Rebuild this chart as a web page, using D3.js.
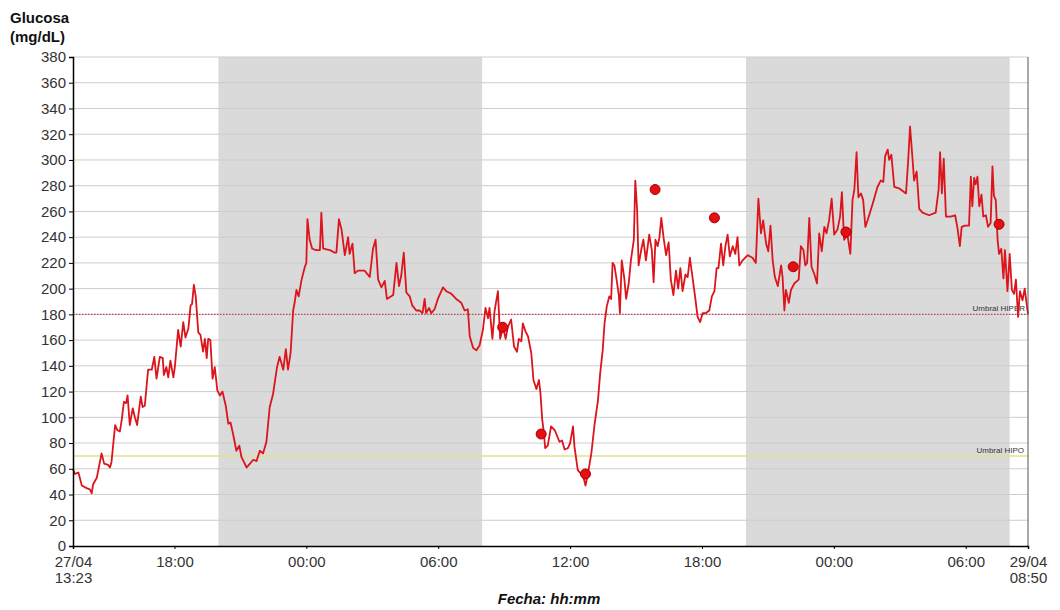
<!DOCTYPE html>
<html>
<head>
<meta charset="utf-8">
<script src="https://cdn.jsdelivr.net/npm/d3@7"></script>
<style>
  body { margin: 0; background: #fff; }
  svg text { font-family: "Liberation Sans", Arial, sans-serif; }
</style>
</head>
<body>
<script>
// sensor trace: minutes after 27/04 13:23 and glucose (mg/dL)
var minutesFromStart = [0, 5, 15, 24, 37, 46, 51, 55, 65, 78, 85, 96, 101, 105, 115, 121, 128, 133, 139, 145,
  149, 155, 163, 169, 175, 185, 190, 196, 205, 215, 222, 228, 237, 245, 248, 255, 260, 266, 274, 278,
  287, 294, 301, 307, 315, 321, 325, 330, 335, 342, 348, 355, 360, 365, 369, 375, 381, 387, 394, 401,
  408, 417, 424, 430, 437, 446, 454, 460, 474, 483, 492, 501, 510, 519, 528, 537, 546, 557, 564, 574,
  581, 587, 594, 601, 605, 610, 616, 624, 633, 637, 640, 646, 653, 664, 674, 678, 683, 701, 714, 719,
  726, 733, 742, 751, 755, 763, 769, 778, 796, 810, 819, 826, 833, 842, 851, 857, 874, 883, 890, 896,
  903, 910, 919, 926, 937, 946, 954, 960, 964, 972, 978, 987, 996, 1010, 1019, 1033, 1046, 1060, 1069, 1078,
  1083, 1092, 1101, 1110, 1119, 1126, 1133, 1137, 1145, 1151, 1160, 1166, 1174, 1181, 1187, 1196, 1204, 1212, 1217, 1224,
  1228, 1235, 1242, 1251, 1257, 1265, 1272, 1276, 1281, 1285, 1289, 1296, 1305, 1315, 1328, 1335, 1342, 1351, 1357, 1365,
  1369, 1378, 1387, 1394, 1399, 1405, 1415, 1424, 1433, 1439, 1446, 1451, 1457, 1464, 1469, 1473, 1478, 1484, 1490, 1493,
  1498, 1505, 1510, 1517, 1523, 1531, 1535, 1540, 1544, 1551, 1557, 1564, 1573, 1580, 1585, 1590, 1596, 1601, 1606, 1612,
  1619, 1626, 1632, 1639, 1646, 1652, 1658, 1664, 1672, 1678, 1684, 1692, 1699, 1705, 1712, 1719, 1728, 1737, 1744, 1751,
  1757, 1762, 1769, 1775, 1781, 1787, 1793, 1801, 1808, 1814, 1819, 1828, 1842, 1855, 1864, 1871, 1878, 1884, 1892, 1898,
  1904, 1910, 1916, 1924, 1933, 1937, 1942, 1946, 1954, 1960, 1969, 1981, 1987, 1994, 1999, 2004, 2010, 2016, 2024, 2031,
  2037, 2044, 2051, 2057, 2064, 2071, 2078, 2087, 2094, 2099, 2105, 2114, 2122, 2128, 2133, 2139, 2144, 2151, 2157, 2163,
  2169, 2183, 2196, 2205, 2212, 2217, 2224, 2228, 2234, 2242, 2255, 2274, 2280, 2285, 2292, 2296, 2303, 2310, 2319, 2337,
  2355, 2363, 2367, 2372, 2377, 2383, 2396, 2408, 2414, 2421, 2426, 2435, 2446, 2451, 2455, 2460, 2464, 2469, 2474, 2480,
  2485, 2492, 2498, 2505, 2510, 2514, 2519, 2524, 2528, 2534, 2540, 2544, 2551, 2557, 2563, 2569, 2574, 2580, 2585, 2592,
  2598, 2607];
var glucose = [60, 56, 57, 47, 45, 44, 41, 48, 53, 72, 64, 63, 61, 65, 94, 90, 89, 98, 112, 111,
  117, 94, 107, 100, 94, 116, 108, 109, 137, 137, 147, 130, 147, 146, 133, 139, 131, 144, 131, 139,
  168, 155, 174, 162, 169, 187, 188, 203, 194, 166, 164, 151, 161, 146, 161, 160, 130, 139, 121, 117,
  120, 109, 95, 96, 87, 74, 78, 69, 61, 64, 67, 66, 74, 72, 81, 108, 118, 139, 147, 137,
  153, 137, 150, 183, 189, 199, 194, 207, 217, 220, 254, 238, 231, 230, 230, 259, 231, 230, 228, 228,
  254, 246, 226, 240, 227, 235, 212, 214, 214, 209, 231, 238, 207, 201, 206, 192, 195, 220, 202, 210,
  228, 197, 194, 187, 183, 183, 181, 192, 181, 185, 181, 184, 192, 201, 198, 196, 192, 189, 183, 184,
  163, 154, 152, 156, 168, 185, 177, 185, 161, 183, 198, 161, 170, 161, 170, 176, 155, 151, 161, 159,
  173, 167, 163, 150, 129, 122, 129, 119, 98, 89, 76, 78, 93, 90, 81, 82, 75, 76, 80, 93,
  77, 59, 56, 53, 47, 55, 72, 95, 113, 134, 152, 173, 186, 194, 192, 220, 218, 207, 195, 181,
  222, 208, 192, 204, 222, 238, 284, 261, 218, 230, 238, 222, 242, 230, 205, 238, 233, 240, 255, 240,
  226, 236, 207, 195, 214, 200, 216, 198, 211, 209, 224, 207, 192, 178, 174, 181, 181, 183, 194, 198,
  216, 216, 235, 218, 233, 242, 225, 233, 227, 240, 218, 222, 226, 224, 220, 270, 243, 253, 235, 229,
  249, 222, 209, 202, 218, 209, 183, 199, 189, 199, 204, 207, 233, 230, 218, 220, 255, 217, 211, 204,
  243, 229, 248, 243, 253, 270, 242, 246, 256, 275, 238, 242, 227, 269, 277, 306, 271, 274, 269, 248,
  253, 266, 279, 284, 283, 303, 308, 300, 304, 279, 278, 274, 300, 326, 300, 284, 291, 262, 259, 257,
  259, 277, 306, 274, 301, 256, 256, 257, 248, 233, 248, 249, 249, 287, 264, 286, 281, 287, 264, 273,
  256, 257, 248, 251, 295, 272, 269, 238, 227, 231, 208, 230, 198, 227, 199, 196, 207, 178, 198, 191,
  200, 180];

// capillary (meter) readings
var meterMinutes = [1173, 1278, 1399, 1589, 1751, 1966, 2110, 2528];
var meterValues = [170, 87, 56, 277, 255, 217, 244, 250];

var startLabel = "27/04/2012 13:23";
var endLabel = "29/04/2012 08:50";
var nightStarts = ["27/04/2012 20:00", "28/04/2012 20:00"];
var nightEnds = ["28/04/2012 08:00", "29/04/2012 08:00"];
var hourTicks = ["27/04/2012 18:00", "28/04/2012 00:00", "28/04/2012 06:00", "28/04/2012 12:00",
  "28/04/2012 18:00", "29/04/2012 00:00", "29/04/2012 06:00"];
var yTicks = d3.range(0, 381, 20);
var thresholdHiper = 180;
var thresholdHipo = 70;

(function () {
  var parse = d3.timeParse("%d/%m/%Y %H:%M");
  var t0 = parse(startLabel), t1 = parse(endLabel);
  var atMinute = function (m) { return new Date(t0.getTime() + m * 60000); };

  var w = 1060, h = 610;
  var pLeft = 73, pRight = 1028, pTop = 57, pBottom = 546;

  var svg = d3.select("body").append("svg").attr("width", w).attr("height", h);

  var x = d3.scaleTime().domain([t0, t1]).range([pLeft, pRight]);
  var y = d3.scaleLinear().domain([0, 380]).range([pBottom, pTop]);

  // night shading
  svg.append("g").selectAll("rect")
    .data(nightStarts)
    .enter().append("rect")
    .attr("x", function (d) { return x(parse(d)); })
    .attr("y", pTop)
    .attr("width", function (d, i) { return x(parse(nightEnds[i])) - x(parse(d)); })
    .attr("height", pBottom - pTop)
    .attr("fill", "#dadada");

  // horizontal grid
  svg.append("g").selectAll("line")
    .data(yTicks.filter(function (d) { return d > 0; }))
    .enter().append("line")
    .attr("x1", pLeft).attr("x2", pRight)
    .attr("y1", function (d) { return y(d); })
    .attr("y2", function (d) { return y(d); })
    .attr("stroke", "#cdcdcd")
    .attr("stroke-width", 1);

  // thresholds
  svg.append("line")
    .attr("x1", pLeft).attr("x2", pRight)
    .attr("y1", y(thresholdHiper)).attr("y2", y(thresholdHiper))
    .attr("stroke", "#b8485e").attr("stroke-width", 1.3)
    .attr("stroke-dasharray", "1.5,1.5");
  svg.append("line")
    .attr("x1", pLeft).attr("x2", pRight)
    .attr("y1", y(thresholdHipo)).attr("y2", y(thresholdHipo))
    .attr("stroke", "#e2e08c").attr("stroke-width", 1.5);

  svg.append("text").attr("x", pRight - 3).attr("y", y(thresholdHiper) - 3)
    .attr("text-anchor", "end").attr("font-size", 8).attr("fill", "#333")
    .text("Umbral HIPER");
  svg.append("text").attr("x", pRight - 4).attr("y", y(thresholdHipo) - 3)
    .attr("text-anchor", "end").attr("font-size", 8).attr("fill", "#333")
    .text("Umbral HIPO");

  // sensor line
  var series = minutesFromStart.map(function (m, i) { return { t: atMinute(m), v: glucose[i] }; });
  var line = d3.line()
    .x(function (d) { return x(d.t); })
    .y(function (d) { return y(d.v); });
  svg.append("path")
    .datum(series)
    .attr("d", line)
    .attr("fill", "none")
    .attr("stroke", "#dc141c")
    .attr("stroke-width", 1.8)
    .attr("stroke-linejoin", "round");

  // meter dots
  svg.append("g").selectAll("circle")
    .data(meterMinutes)
    .enter().append("circle")
    .attr("cx", function (d) { return x(atMinute(d)); })
    .attr("cy", function (d, i) { return y(meterValues[i]); })
    .attr("r", 5)
    .attr("fill", "#e30f12")
    .attr("stroke", "#a80000")
    .attr("stroke-width", 1);

  // right border
  svg.append("line")
    .attr("x1", pRight).attr("x2", pRight).attr("y1", pTop).attr("y2", pBottom)
    .attr("stroke", "#555").attr("stroke-width", 1);

  // y axis
  var yAxis = svg.append("g")
    .attr("transform", "translate(" + pLeft + ",0)")
    .call(d3.axisLeft(y).tickValues(yTicks).tickSize(4).tickPadding(3));
  yAxis.select(".domain").attr("stroke", "#000").attr("stroke-width", 1.5);
  yAxis.selectAll("text").attr("font-size", 15).attr("fill", "#333")
    .style("font-family", "'Liberation Sans', Arial, sans-serif");

  // x axis
  var xAxis = svg.append("g")
    .attr("transform", "translate(0," + pBottom + ")")
    .call(d3.axisBottom(x).tickValues([t0].concat(hourTicks.map(parse), [t1]))
      .tickSize(3).tickFormat(function () { return ""; }));
  xAxis.select(".domain").attr("stroke", "#000").attr("stroke-width", 1.5);

  var fmtHour = d3.timeFormat("%H:%M"), fmtDay = d3.timeFormat("%d/%m");
  xAxis.selectAll(".tick").each(function (d) {
    var tx = d3.select(this).select("text");
    var edge = d.getTime() === t0.getTime() || d.getTime() === t1.getTime();
    tx.attr("font-size", 15).attr("fill", "#333").attr("y", 10)
      .style("font-family", "'Liberation Sans', Arial, sans-serif");
    if (edge) {
      tx.append("tspan").attr("x", 0).attr("dy", "0.71em").text(fmtDay(d));
      tx.append("tspan").attr("x", 0).attr("dy", "1.1em").text(fmtHour(d));
    } else {
      tx.append("tspan").attr("x", 0).attr("dy", "0.71em").text(fmtHour(d));
    }
  });

  // titles
  svg.append("text").attr("x", 10).attr("y", 23)
    .attr("font-size", 15).attr("font-weight", "bold").attr("fill", "#111")
    .text("Glucosa");
  svg.append("text").attr("x", 10).attr("y", 42)
    .attr("font-size", 15).attr("font-weight", "bold").attr("fill", "#111")
    .text("(mg/dL)");
  svg.append("text").attr("x", 549).attr("y", 604)
    .attr("text-anchor", "middle")
    .attr("font-size", 15).attr("font-weight", "bold").attr("font-style", "italic").attr("fill", "#111")
    .text("Fecha: hh:mm");
})();
</script>
</body>
</html>
